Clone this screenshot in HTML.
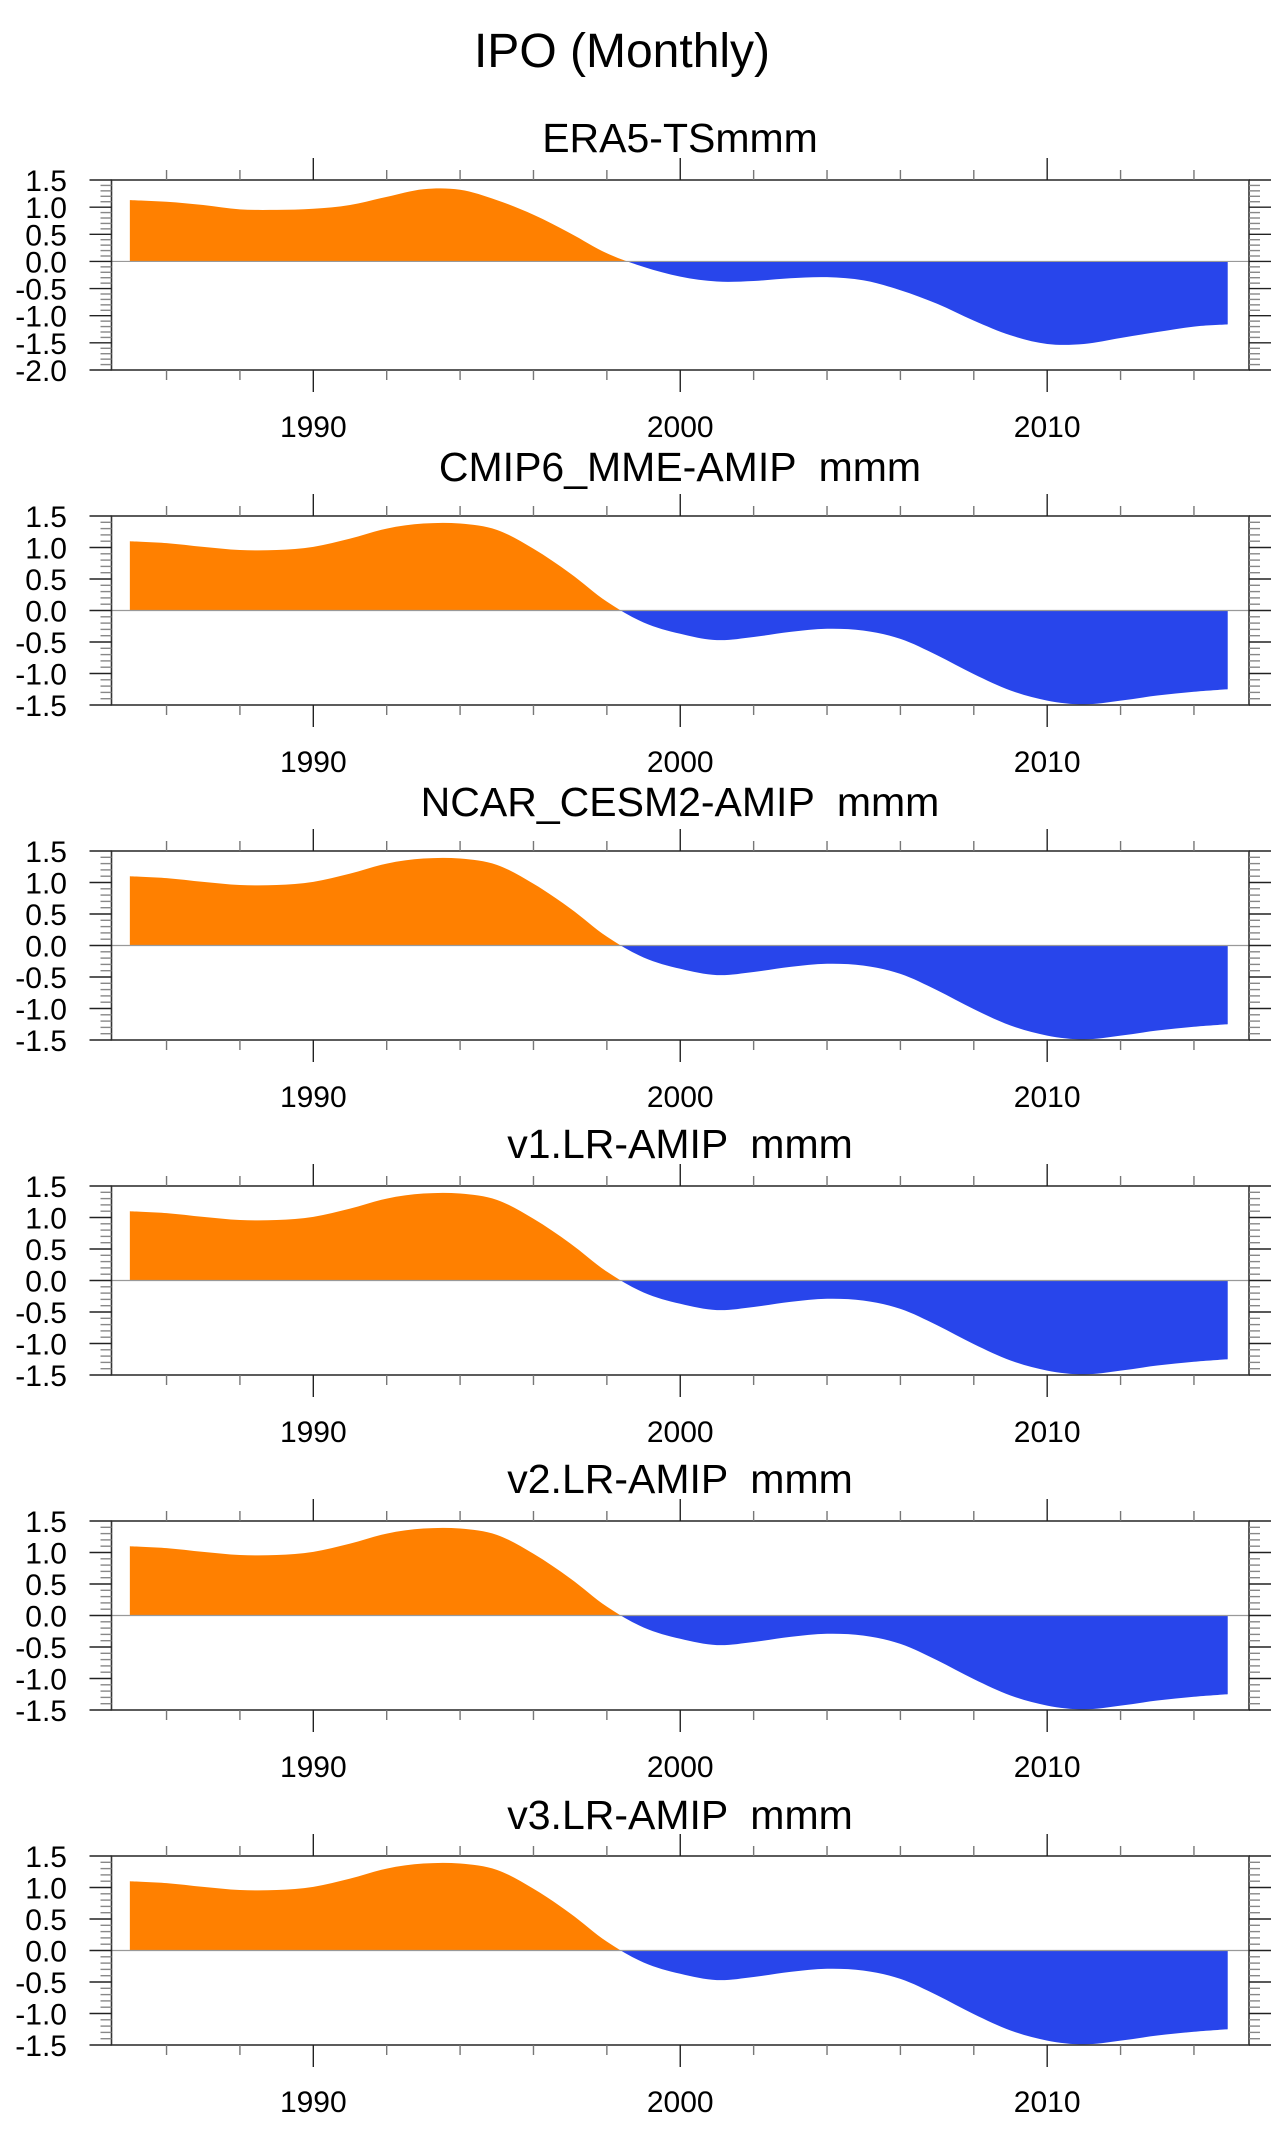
<!DOCTYPE html>
<html><head><meta charset="utf-8"><style>
html,body{margin:0;padding:0;background:#fff;}
svg{display:block;}
text{font-family:"Liberation Sans",sans-serif;fill:#000;white-space:pre;}
</style></head><body>
<svg id="chart" xmlns="http://www.w3.org/2000/svg" width="1288" height="2144" viewBox="0 0 1288 2144">
<text x="622" y="67" font-size="48" text-anchor="middle">IPO (Monthly)</text>
</svg>
<script>
const years = [1985,1986,1987,1988,1989,1990,1991,1992,1993,1994,1995,1996,1997,1998,1999,2000,2001,2002,2003,2004,2005,2006,2007,2008,2009,2010,2011,2012,2013,2014,2014.92];
const era5Values = [1.13,1.10,1.04,0.96,0.95,0.97,1.04,1.19,1.33,1.32,1.13,0.86,0.52,0.15,-0.10,-0.28,-0.37,-0.36,-0.31,-0.29,-0.35,-0.53,-0.78,-1.09,-1.36,-1.52,-1.52,-1.41,-1.30,-1.20,-1.16];
const mmeValues = [1.10,1.07,1.01,0.96,0.96,1.01,1.14,1.30,1.38,1.38,1.28,0.98,0.59,0.14,-0.19,-0.37,-0.47,-0.42,-0.34,-0.29,-0.32,-0.45,-0.71,-1.01,-1.27,-1.43,-1.49,-1.43,-1.35,-1.29,-1.25];
const cesm2Values = [1.10,1.07,1.01,0.96,0.96,1.01,1.14,1.30,1.38,1.38,1.28,0.98,0.59,0.14,-0.19,-0.37,-0.47,-0.42,-0.34,-0.29,-0.32,-0.45,-0.71,-1.01,-1.27,-1.43,-1.49,-1.43,-1.35,-1.29,-1.25];
const v1Values = [1.10,1.07,1.01,0.96,0.96,1.01,1.14,1.30,1.38,1.38,1.28,0.98,0.59,0.14,-0.19,-0.37,-0.47,-0.42,-0.34,-0.29,-0.32,-0.45,-0.71,-1.01,-1.27,-1.43,-1.49,-1.43,-1.35,-1.29,-1.25];
const v2Values = [1.10,1.07,1.01,0.96,0.96,1.01,1.14,1.30,1.38,1.38,1.28,0.98,0.59,0.14,-0.19,-0.37,-0.47,-0.42,-0.34,-0.29,-0.32,-0.45,-0.71,-1.01,-1.27,-1.43,-1.49,-1.43,-1.35,-1.29,-1.25];
const v3Values = [1.10,1.07,1.01,0.96,0.96,1.01,1.14,1.30,1.38,1.38,1.28,0.98,0.59,0.14,-0.19,-0.37,-0.47,-0.42,-0.34,-0.29,-0.32,-0.45,-0.71,-1.01,-1.27,-1.43,-1.49,-1.43,-1.35,-1.29,-1.25];
const panelTitles = ["ERA5-TSmmm","CMIP6_MME-AMIP  mmm","NCAR_CESM2-AMIP  mmm","v1.LR-AMIP  mmm","v2.LR-AMIP  mmm","v3.LR-AMIP  mmm"];
const xTickYears = [1990,2000,2010];
const yTicksEra5 = ["1.5","1.0","0.5","0.0","-0.5","-1.0","-1.5","-2.0"];
const yTicksModel = ["1.5","1.0","0.5","0.0","-0.5","-1.0","-1.5"];

const NS="http://www.w3.org/2000/svg";
const svg=document.getElementById('chart');
function mk(tag,attrs,parent){const e=document.createElementNS(NS,tag);for(const k in attrs)e.setAttribute(k,attrs[k]);(parent||svg).appendChild(e);return e;}

const X0=111.5,X1=1249,YR0=1984.5,YR1=2015.5;
function xs(yr){return X0+(yr-YR0)/(YR1-YR0)*(X1-X0);}

const panels=[
 {vals:era5Values,top:180,bot:370,ymin:-2,ymax:1.5,ticks:yTicksEra5,tb:152},
 {vals:mmeValues,top:516,bot:705,ymin:-1.5,ymax:1.5,ticks:yTicksModel,tb:481},
 {vals:cesm2Values,top:851,bot:1040,ymin:-1.5,ymax:1.5,ticks:yTicksModel,tb:816},
 {vals:v1Values,top:1186,bot:1375,ymin:-1.5,ymax:1.5,ticks:yTicksModel,tb:1158},
 {vals:v2Values,top:1521,bot:1710,ymin:-1.5,ymax:1.5,ticks:yTicksModel,tb:1493},
 {vals:v3Values,top:1856,bot:2045,ymin:-1.5,ymax:1.5,ticks:yTicksModel,tb:1829}
];

panels.forEach((p,i)=>{
  const g=mk('g',{});
  
  
  const ys=v=>p.bot-(v-p.ymin)/(p.ymax-p.ymin)*(p.bot-p.top);
  const y0=ys(0);
  const t=mk('text',{x:680,y:p.tb,'font-size':41,'text-anchor':'middle'},g);
  t.textContent=panelTitles[i];
  
  
  const pts=years.map((yr,k)=>[xs(yr),ys(p.vals[k])]);
  let d='M'+pts[0][0]+','+y0+' L'+pts[0][0]+','+pts[0][1];
  for(let k=0;k<pts.length-1;k++){
    const a=pts[Math.max(k-1,0)],b=pts[k],c=pts[k+1],e=pts[Math.min(k+2,pts.length-1)];
    const c1=[b[0]+(c[0]-a[0])/6,b[1]+(c[1]-a[1])/6],c2=[c[0]-(e[0]-b[0])/6,c[1]-(e[1]-b[1])/6];
    d+=' C'+c1[0]+','+c1[1]+' '+c2[0]+','+c2[1]+' '+c[0]+','+c[1];
  }
  d+=' L'+pts[pts.length-1][0]+','+y0+' Z';
  const cpPos=mk('clipPath',{id:'cpos'+i},g);mk('rect',{x:X0,y:p.top,width:X1-X0,height:y0-p.top},cpPos);
  const cpNeg=mk('clipPath',{id:'cneg'+i},g);mk('rect',{x:X0,y:y0,width:X1-X0,height:p.bot-y0},cpNeg);
  const pos=mk('path',{d:d,fill:'#ff8000','clip-path':'url(#cpos'+i+')'},g);
  
  
  const neg=mk('path',{d:d,fill:'#2845eb','clip-path':'url(#cneg'+i+')'},g);
  
  
  const zl=mk('line',{x1:X0,x2:X1,y1:y0,y2:y0,stroke:'#999','stroke-width':1.2},g);
  
  
  const fr=mk('rect',{x:X0,y:p.top,width:X1-X0,height:p.bot-p.top,fill:'none',stroke:'#333','stroke-width':1.6},g);
  
  
  for(let yr=1986;yr<=2014;yr+=2){
    const major=xTickYears.indexOf(yr)>=0;const L=major?22:10;const x=xs(yr);
    const col=major?'#222':'#777';
    mk('line',{x1:x,x2:x,y1:p.top,y2:p.top-L,stroke:col,'stroke-width':1.4},g);
    mk('line',{x1:x,x2:x,y1:p.bot,y2:p.bot+L,stroke:col,'stroke-width':1.4},g);
  }
  xTickYears.forEach(yr=>{
    const tl=mk('text',{x:xs(yr),y:p.bot+67,'font-size':30,'text-anchor':'middle'},g);
    tl.textContent=yr;
    
    
  });
  const n=Math.round((p.ymax-p.ymin)*10);
  for(let k=0;k<=n;k++){
    const v=p.ymin+k/10;const y=ys(v);const major=k%5===0;const L=major?22:11;
    const col=major?'#222':'#888';
    mk('line',{x1:X0,x2:X0-L,y1:y,y2:y,stroke:col,'stroke-width':1.4},g);
    mk('line',{x1:X1,x2:X1+L,y1:y,y2:y,stroke:col,'stroke-width':1.4},g);
  }
  p.ticks.forEach(s=>{
    const tl=mk('text',{x:67,y:ys(parseFloat(s))+11,'font-size':30,'text-anchor':'end'},g);
    tl.textContent=s;
    
    
  });
});
</script>
</body></html>
